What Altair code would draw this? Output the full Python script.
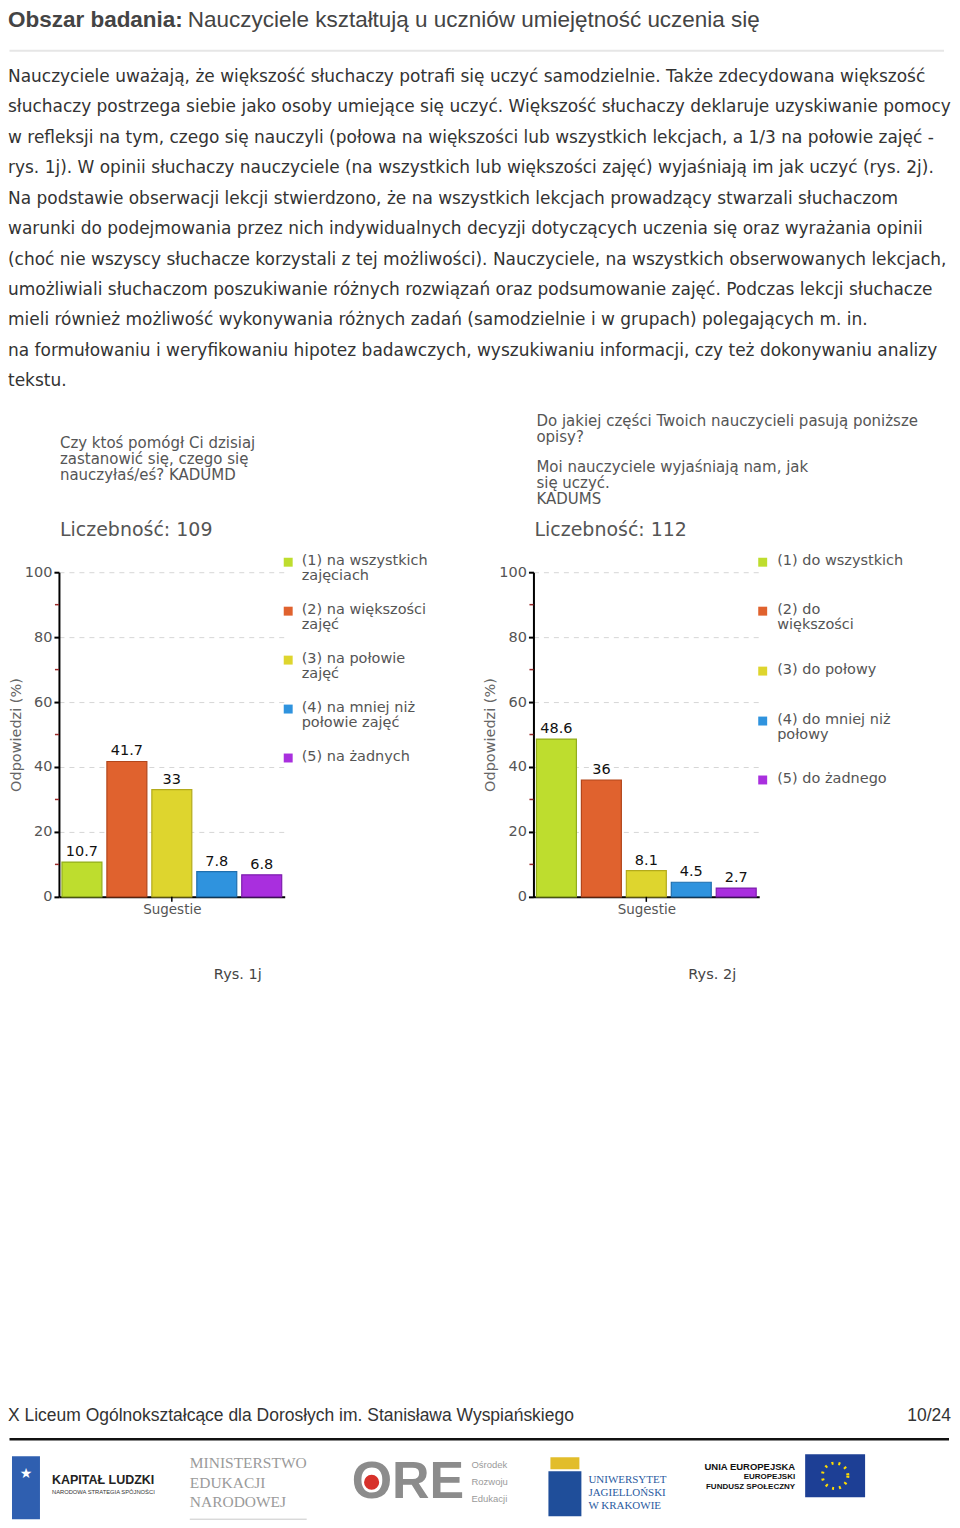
import altair as alt
import pandas as pd

# ---------------- data ----------------
page_title_bold = "Obszar badania:"
page_title_rest = "Nauczyciele kształtują u uczniów umiejętność uczenia się"

body_lines = [
    "Nauczyciele uważają, że większość słuchaczy potrafi się uczyć samodzielnie. Także zdecydowana większość",
    "słuchaczy postrzega siebie jako osoby umiejące się uczyć. Większość słuchaczy deklaruje uzyskiwanie pomocy",
    "w refleksji na tym, czego się nauczyli (połowa na większości lub wszystkich lekcjach, a 1/3 na połowie zajęć -",
    "rys. 1j). W opinii słuchaczy nauczyciele (na wszystkich lub większości zajęć) wyjaśniają im jak uczyć (rys. 2j).",
    "Na podstawie obserwacji lekcji stwierdzono, że na wszystkich lekcjach prowadzący stwarzali słuchaczom",
    "warunki do podejmowania przez nich indywidualnych decyzji dotyczących uczenia się oraz wyrażania opinii",
    "(choć nie wszyscy słuchacze korzystali z tej możliwości). Nauczyciele, na wszystkich obserwowanych lekcjach,",
    "umożliwiali słuchaczom poszukiwanie różnych rozwiązań oraz podsumowanie zajęć. Podczas lekcji słuchacze",
    "mieli również możliwość wykonywania różnych zadań (samodzielnie i w grupach) polegających m. in.",
    "na formułowaniu i weryfikowaniu hipotez badawczych, wyszukiwaniu informacji, czy też dokonywaniu analizy",
    "tekstu.",
]

chart1_title = ["Czy ktoś pomógł Ci dzisiaj", "zastanowić się, czego się", "nauczyłaś/eś? KADUMD"]
chart1_count = "Liczebność: 109"
chart1_categories = [
    "(1) na wszystkich zajęciach",
    "(2) na większości zajęć",
    "(3) na połowie zajęć",
    "(4) na mniej niż połowie zajęć",
    "(5) na żadnych",
]
chart1_legend = [
    ["(1) na wszystkich", "zajęciach"],
    ["(2) na większości", "zajęć"],
    ["(3) na połowie", "zajęć"],
    ["(4) na mniej niż", "połowie zajęć"],
    ["(5) na żadnych"],
]
chart1_values = [10.7, 41.7, 33.0, 7.8, 6.8]

chart2_title_a = ["Do jakiej części Twoich nauczycieli pasują poniższe", "opisy?"]
chart2_title_b = ["Moi nauczyciele wyjaśniają nam, jak", "się uczyć.", " KADUMS"]
chart2_count = "Liczebność: 112"
chart2_categories = [
    "(1) do wszystkich",
    "(2) do większości",
    "(3) do połowy",
    "(4) do mniej niż połowy",
    "(5) do żadnego",
]
chart2_legend = [
    ["(1) do wszystkich"],
    ["(2) do", "większości"],
    ["(3) do połowy"],
    ["(4) do mniej niż", "połowy"],
    ["(5) do żadnego"],
]
chart2_values = [48.6, 36.0, 8.1, 4.5, 2.7]

group_label = "Sugestie"
y_title = "Odpowiedzi (%)"
y_ticks = [0, 20, 40, 60, 80, 100]
y_minor = [10, 30, 50, 70, 90]
captions = ["Rys. 1j", "Rys. 2j"]
footer_school = "X Liceum Ogólnokształcące dla Dorosłych im. Stanisława Wyspiańskiego"
footer_page = "10/24"

# ---------------- styles ----------------
FILL = ["#bedd2e", "#e0622e", "#ded52e", "#2f93de", "#a92fde"]
STROKE = ["#93ad1d", "#b2461b", "#b3aa1c", "#1f6fae", "#7e1eae"]
BODY_FONT = "DejaVu Sans"
SANS = "Liberation Sans"
SERIF = "Liberation Serif"
ONE = pd.DataFrame({"k": [0]})

# the whole page is laid out relative to the first column of the chart row,
# whose plot area starts at page position (8, 572)
def px(v):
    return v - 8


def py(v):
    return v - 572


def txt(text, x, y, size=13, color="#555", align="left", baseline="middle",
        font=BODY_FONT, weight="normal", line_height=None):
    props = dict(align=align, baseline=baseline, fontSize=size, color=color,
                 font=font, fontWeight=weight)
    if line_height:
        props["lineHeight"] = line_height
    return alt.Chart(ONE).mark_text(**props).encode(
        x=alt.value(x), y=alt.value(y), text=alt.value(text))


def box(x, x2, y, y2, color):
    return alt.Chart(ONE).mark_rect(color=color).encode(
        x=alt.value(x), x2=alt.value(x2), y=alt.value(y), y2=alt.value(y2))


def hline(x, x2, y, color, width):
    return alt.Chart(ONE).mark_rule(color=color, strokeWidth=width).encode(
        x=alt.value(x), x2=alt.value(x2), y=alt.value(y))


PW, PH = 226, 325


def bar_panel(cats, vals, title_layers):
    df = pd.DataFrame({"kat": cats, "val": vals})
    x = alt.X("kat:N", sort=cats, title=group_label,
              scale=alt.Scale(paddingInner=0.111, paddingOuter=0.067),
              axis=alt.Axis(labels=False, ticks=False, domainColor="#000", domainWidth=2,
                            titleColor="#555", titleFontSize=13.5, titleFont=BODY_FONT,
                            titleFontWeight="normal", titlePadding=6, grid=False))
    yscale = alt.Scale(domain=[0, 100], nice=False)
    yaxis = alt.Axis(values=y_ticks, grid=True, gridDash=[5, 5], gridColor="#d6d6d6",
                     domainColor="#000", domainWidth=2, tickColor="#000", tickSize=5,
                     tickWidth=2, labelColor="#555", labelFontSize=14.5, labelPadding=2,
                     labelFont=BODY_FONT, titleColor="#666", titleFontSize=14.5,
                     titleFont=BODY_FONT, titleFontWeight="normal", titlePadding=1)
    y = alt.Y("val:Q", scale=yscale, axis=yaxis, title=y_title)
    base = alt.Chart(df)
    bars = base.mark_bar(strokeWidth=1.2).encode(
        x=x, y=y,
        color=alt.Color("kat:N", scale=alt.Scale(domain=cats, range=FILL), legend=None),
        stroke=alt.Stroke("kat:N", scale=alt.Scale(domain=cats, range=STROKE), legend=None),
    )
    labels = base.mark_text(baseline="middle", dy=-10, fontSize=14.5, color="#111",
                            font=BODY_FONT).encode(
        x=x, y=y, text=alt.Text("val:Q", format=".1~f"))
    minor = alt.Chart(pd.DataFrame({"val": y_minor})).mark_rule(
        color="#9b2a2a", strokeWidth=1.5).encode(
        y=y, x=alt.value(-4), x2=alt.value(0))
    center_tick = alt.Chart(ONE).mark_rule(color="#000", strokeWidth=1.5).encode(
        x=alt.value(PW / 2), y=alt.value(PH), y2=alt.value(PH + 5))
    return alt.layer(bars, labels, minor, center_tick, *title_layers).properties(
        width=PW, height=PH)


def legend_panel(cats, lines, ys, width, text_x):
    df = pd.DataFrame({"kat": cats, "lines": lines, "ly": ys})
    sq = alt.Chart(df).mark_square(size=80, opacity=1).encode(
        x=alt.value(3.5), y=alt.Y("ly:Q", scale=None, axis=None),
        color=alt.Color("kat:N", scale=alt.Scale(domain=cats, range=FILL), legend=None))
    tx = alt.Chart(df).mark_text(align="left", baseline="top", dy=-8, fontSize=14.5,
                                 color="#555", lineHeight=15, font=BODY_FONT).encode(
        x=alt.value(text_x), y=alt.Y("ly:Q", scale=None, axis=None), text="lines:N")
    return alt.layer(sq, tx).properties(width=width, height=PH)


# ---------------- header + footer (drawn from the first column) ----------------
body_df = pd.DataFrame({"i": list(range(len(body_lines))), "line": body_lines})
body = alt.Chart(body_df).mark_text(align="left", baseline="middle", fontSize=17,
                                    color="#333", font=BODY_FONT).encode(
    x=alt.value(0),
    y=alt.Y("i:Q", scale=alt.Scale(domain=[0, 10], range=[py(76), py(381)]), axis=None),
    text="line:N")

page = alt.layer(
    txt(page_title_bold, 0, py(8), size=22.5, color="#444", baseline="top", font=SANS,
        weight="bold"),
    txt(page_title_rest, px(188), py(8), size=22.5, color="#444", baseline="top", font=SANS),
    hline(1.5, px(945), py(50), "#e6e6e6", 2),
    body,
    txt(captions[0], px(238), py(975), size=14.5, color="#444", align="center"),
    txt(captions[1], px(713), py(975), size=14.5, color="#444", align="center"),
    txt(footer_school, 0, py(1417), size=17.5, color="#333", font=SANS),
    txt(footer_page, px(952), py(1417), size=17.5, color="#333", font=SANS, align="right"),
    hline(1.5, px(950), py(1440), "#111", 2.5),
    # Kapitał Ludzki
    box(px(12), px(40), py(1457), py(1520), "#2f5fb0"),
    txt("★", px(26), py(1475), size=14, color="#ffffff", align="center"),
    txt("KAPITAŁ LUDZKI", px(52), py(1481), size=12.5, color="#222", font=SANS,
        weight="bold"),
    txt("NARODOWA STRATEGIA SPÓJNOŚCI", px(52), py(1493), size=5.8, color="#333", font=SANS),
    # MEN
    txt(["MINISTERSTWO", "EDUKACJI", "NARODOWEJ"], px(190), py(1457), size=15.5,
        color="#9a9a9a", baseline="top", font=SERIF, line_height=19.5),
    hline(px(190), px(307), py(1520), "#c8c8c8", 1),
    # ORE
    txt("ORE", px(352), py(1483), size=52, color="#8c8c8c", font=SANS, weight="bold"),
    alt.Chart(ONE).mark_point(filled=True, size=230, color="#d7312b", opacity=1).encode(
        x=alt.value(px(372)), y=alt.value(py(1483))),
    txt(["Ośrodek", "Rozwoju", "Edukacji"], px(472), py(1461), size=9.5, color="#9a9a9a",
        baseline="top", font=SANS, line_height=17),
    # UJ
    box(px(551), px(580), py(1458), py(1470), "#e2bd2a"),
    box(px(549), px(582), py(1472), py(1517), "#1f4e9a"),
    txt(["UNIWERSYTET", "JAGIELLOŃSKI", "W KRAKOWIE"], px(589), py(1475), size=11,
        color="#2a5aa0", baseline="top", font=SERIF, line_height=13),
    # EU
    txt("UNIA EUROPEJSKA", px(796), py(1468), size=9.5, color="#111", align="right",
        font=SANS, weight="bold"),
    txt(["EUROPEJSKI", "FUNDUSZ SPOŁECZNY"], px(796), py(1474), size=8, color="#111",
        align="right", baseline="top", font=SANS, weight="bold", line_height=9.5),
    box(px(806), px(866), py(1455), py(1498), "#1d3f95"),
    alt.Chart(ONE).mark_point(filled=False, size=650, stroke="#ffdd00", strokeWidth=3,
                              strokeDash=[2, 5], opacity=1).encode(
        x=alt.value(px(836)), y=alt.value(py(1476.5))),
).properties(width=51, height=PH)

# ---------------- charts row ----------------
panel1 = bar_panel(chart1_categories, chart1_values, [
    txt(chart1_title, 1, py(435.5), size=15, color="#555", baseline="top", line_height=16),
    txt(chart1_count, 1, py(530), size=19, color="#555"),
])
panel2 = bar_panel(chart2_categories, chart2_values, [
    txt(chart2_title_a, 3, py(413.5), size=15, color="#555", baseline="top", line_height=16),
    txt(chart2_title_b, 3, py(459.5), size=15, color="#555", baseline="top", line_height=16),
    txt(chart2_count, 1, py(530), size=19, color="#555"),
])
legend1 = legend_panel(chart1_categories, chart1_legend,
                       [py(562) + 49 * i for i in range(5)], 249, 17)
legend2 = legend_panel(chart2_categories, chart2_legend,
                       [py(v) for v in (562, 611, 671, 721, 780)], 192, 18)

chart = alt.hconcat(page, panel1, legend1, panel2, legend2, spacing=0, bounds="flush",
                    padding={"left": 0, "top": 0, "right": 0, "bottom": 0}
                    ).configure(font=BODY_FONT).configure_view(stroke=None)

chart.save("out.html", embed_options={"renderer": "svg", "actions": False})
